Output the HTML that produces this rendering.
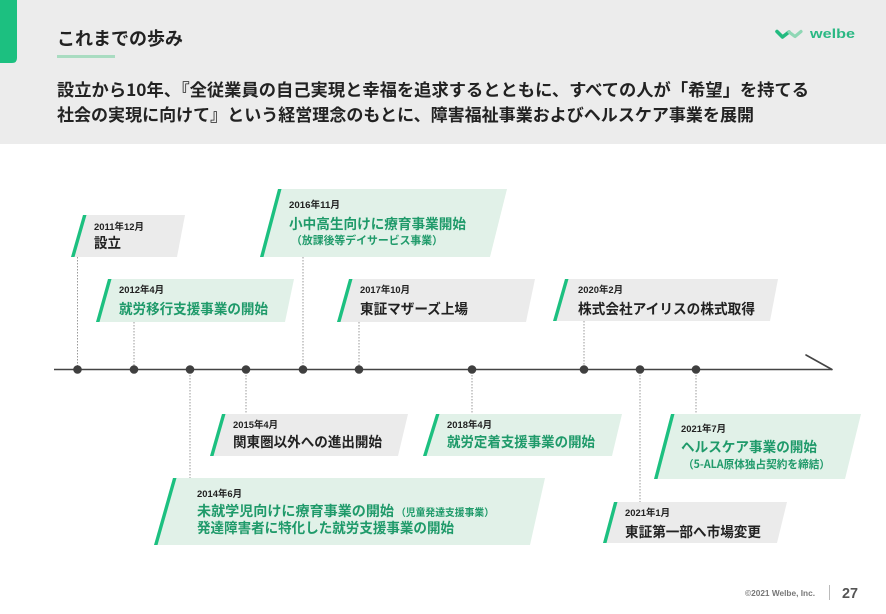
<!DOCTYPE html>
<html><head><meta charset="utf-8">
<style>
html,body{margin:0;padding:0;background:#fff;}
svg{display:block;}
text{font-family:"Liberation Sans","Noto Sans CJK JP",sans-serif;font-weight:700;}
.cj{font-family:"Noto Sans CJK JP","Liberation Sans",sans-serif;font-weight:700;}
.d{font-size:9.5px;fill:#222;}
.mk{font-size:14px;fill:#222;}
.mg{font-size:14px;fill:#1f9a6a;}
.sg{font-size:11px;fill:#1f9a6a;}
.dot{stroke:#9a9a9a;stroke-width:1;stroke-dasharray:1.5 1.5;}
</style></head>
<body>
<svg width="886" height="614" viewBox="0 0 886 614" xmlns="http://www.w3.org/2000/svg">
<!-- header -->
<rect x="0" y="0" width="886" height="144" fill="#ececec"/>
<path d="M0 0 H17 V58 Q17 63 12 63 H0 Z" fill="#1cc080"/>
<text class="cj" x="57" y="45" font-size="18" fill="#222" textLength="126" lengthAdjust="spacingAndGlyphs">これまでの歩み</text>
<rect x="57" y="55" width="58" height="3" fill="#a9dcc1"/>
<!-- logo -->
<path d="M777 31.5 L782.5 37 L789 32" fill="none" stroke="#22bb80" stroke-width="3.6" stroke-linecap="round" stroke-linejoin="round"/>
<path d="M789 32 L795 36.5 L801 31.5" fill="none" stroke="#8fd7b5" stroke-width="3.2" stroke-linecap="round" stroke-linejoin="round"/>
<text x="810" y="38" font-size="12.5" fill="#2ab883" textLength="45" lengthAdjust="spacingAndGlyphs">welbe</text>
<text class="cj" x="57" y="96" font-size="17" fill="#222" textLength="752" lengthAdjust="spacingAndGlyphs">設立から10年、『全従業員の自己実現と幸福を追求するとともに、すべての人が「希望」を持てる</text>
<text class="cj" x="57" y="121" font-size="17" fill="#222" textLength="697" lengthAdjust="spacingAndGlyphs">社会の実現に向けて』という経営理念のもとに、障害福祉事業およびヘルスケア事業を展開</text>

<!-- dotted connectors -->
<line class="dot" x1="77.5" y1="257" x2="77.5" y2="369"/>
<line class="dot" x1="134" y1="322" x2="134" y2="369"/>
<line class="dot" x1="303" y1="257" x2="303" y2="369"/>
<line class="dot" x1="359" y1="322" x2="359" y2="369"/>
<line class="dot" x1="584" y1="321" x2="584" y2="369"/>
<line class="dot" x1="190" y1="369" x2="190" y2="478"/>
<line class="dot" x1="246" y1="369" x2="246" y2="414"/>
<line class="dot" x1="472" y1="369" x2="472" y2="414"/>
<line class="dot" x1="696" y1="369" x2="696" y2="414"/>
<line class="dot" x1="640" y1="369" x2="640" y2="502"/>

<!-- timeline -->
<line x1="54" y1="369.5" x2="832" y2="369.5" stroke="#444" stroke-width="1.6"/>
<line x1="806" y1="355" x2="832" y2="369.5" stroke="#444" stroke-width="1.6" stroke-linecap="round"/>
<g fill="#3f3f3f">
<circle cx="77.5" cy="369.5" r="4.3"/>
<circle cx="134" cy="369.5" r="4.3"/>
<circle cx="190" cy="369.5" r="4.3"/>
<circle cx="246" cy="369.5" r="4.3"/>
<circle cx="303" cy="369.5" r="4.3"/>
<circle cx="359" cy="369.5" r="4.3"/>
<circle cx="472" cy="369.5" r="4.3"/>
<circle cx="584" cy="369.5" r="4.3"/>
<circle cx="640" cy="369.5" r="4.3"/>
<circle cx="696" cy="369.5" r="4.3"/>
</g>

<!-- boxes -->
<!-- 1 -->
<polygon points="83,215 185,215 177,257 71,257" fill="#ebebeb"/>
<polygon points="83,215 86.5,215 74.5,257 71,257" fill="#1cc080"/>
<text class="d" x="94" y="230" textLength="50" lengthAdjust="spacingAndGlyphs">2011年12月</text>
<text class="cj mk" x="94" y="248" textLength="27" lengthAdjust="spacingAndGlyphs">設立</text>
<!-- 2 -->
<polygon points="108,279 294,279 285,322 96,322" fill="#e1f1e8"/>
<polygon points="108,279 111.5,279 99.5,322 96,322" fill="#1cc080"/>
<text class="d" x="119" y="293" textLength="45" lengthAdjust="spacingAndGlyphs">2012年4月</text>
<text class="cj mg" x="119" y="314" textLength="149" lengthAdjust="spacingAndGlyphs">就労移行支援事業の開始</text>
<!-- 3 -->
<polygon points="278,189 507,189 490,257 260,257" fill="#e1f1e8"/>
<polygon points="278,189 281.5,189 263.5,257 260,257" fill="#1cc080"/>
<text class="d" x="289" y="208" textLength="51" lengthAdjust="spacingAndGlyphs">2016年11月</text>
<text class="cj mg" x="289" y="229" textLength="177" lengthAdjust="spacingAndGlyphs">小中高生向けに療育事業開始</text>
<text class="cj sg" x="291" y="244" textLength="152" lengthAdjust="spacingAndGlyphs">（放課後等デイサービス事業）</text>
<!-- 4 -->
<polygon points="349,279 535,279 526,322 337,322" fill="#ebebeb"/>
<polygon points="349,279 352.5,279 340.5,322 337,322" fill="#1cc080"/>
<text class="d" x="360" y="293" textLength="50" lengthAdjust="spacingAndGlyphs">2017年10月</text>
<text class="cj mk" x="360" y="314" textLength="108" lengthAdjust="spacingAndGlyphs">東証マザーズ上場</text>
<!-- 5 -->
<polygon points="565,279 778,279 770,321 553,321" fill="#ebebeb"/>
<polygon points="565,279 568.5,279 556.5,321 553,321" fill="#1cc080"/>
<text class="d" x="578" y="293" textLength="45" lengthAdjust="spacingAndGlyphs">2020年2月</text>
<text class="cj mk" x="578" y="314" textLength="177" lengthAdjust="spacingAndGlyphs">株式会社アイリスの株式取得</text>
<!-- 6 -->
<polygon points="222,414 408,414 398,456 210,456" fill="#ebebeb"/>
<polygon points="222,414 225.5,414 213.5,456 210,456" fill="#1cc080"/>
<text class="d" x="233" y="428" textLength="45" lengthAdjust="spacingAndGlyphs">2015年4月</text>
<text class="cj mk" x="233" y="447" textLength="149" lengthAdjust="spacingAndGlyphs">関東圏以外への進出開始</text>
<!-- 7 -->
<polygon points="436,414 622,414 612,456 423,456" fill="#e1f1e8"/>
<polygon points="436,414 439.5,414 426.5,456 423,456" fill="#1cc080"/>
<text class="d" x="447" y="428" textLength="45" lengthAdjust="spacingAndGlyphs">2018年4月</text>
<text class="cj mg" x="447" y="447" textLength="148" lengthAdjust="spacingAndGlyphs">就労定着支援事業の開始</text>
<!-- 8 -->
<polygon points="173,478 545,478 530,545 154,545" fill="#e1f1e8"/>
<polygon points="173,478 176.5,478 157.5,545 154,545" fill="#1cc080"/>
<text class="d" x="197" y="497" textLength="45" lengthAdjust="spacingAndGlyphs">2014年6月</text>
<text class="cj mg" x="197" y="516" textLength="197" lengthAdjust="spacingAndGlyphs">未就学児向けに療育事業の開始</text>
<text class="cj sg" x="396" y="516" font-size="10" textLength="98" lengthAdjust="spacingAndGlyphs" style="font-size:10px">（児童発達支援事業）</text>
<text class="cj mg" x="197" y="533" textLength="257" lengthAdjust="spacingAndGlyphs">発達障害者に特化した就労支援事業の開始</text>
<!-- 9 -->
<polygon points="671,414 861,414 845,479 654,479" fill="#e1f1e8"/>
<polygon points="671,414 674.5,414 657.5,479 654,479" fill="#1cc080"/>
<text class="d" x="681" y="432" textLength="45" lengthAdjust="spacingAndGlyphs">2021年7月</text>
<text class="cj mg" x="681" y="452" textLength="136" lengthAdjust="spacingAndGlyphs">ヘルスケア事業の開始</text>
<text class="cj sg" x="683" y="468" textLength="147" lengthAdjust="spacingAndGlyphs">（5-ALA原体独占契約を締結）</text>
<!-- 10 -->
<polygon points="614,502 787,502 777,543 603,543" fill="#ebebeb"/>
<polygon points="614,502 617.5,502 606.5,543 603,543" fill="#1cc080"/>
<text class="d" x="625" y="516" textLength="45" lengthAdjust="spacingAndGlyphs">2021年1月</text>
<text class="cj mk" x="625" y="537" textLength="136" lengthAdjust="spacingAndGlyphs">東証第一部へ市場変更</text>

<!-- footer -->
<text x="745" y="596" font-size="8" fill="#777" font-weight="400" textLength="70" lengthAdjust="spacingAndGlyphs">©2021 Welbe, Inc.</text>
<line x1="829.5" y1="585" x2="829.5" y2="600" stroke="#bbb" stroke-width="1"/>
<text x="842" y="598" font-size="15" fill="#555" textLength="16" lengthAdjust="spacingAndGlyphs">27</text>
</svg>
</body></html>
